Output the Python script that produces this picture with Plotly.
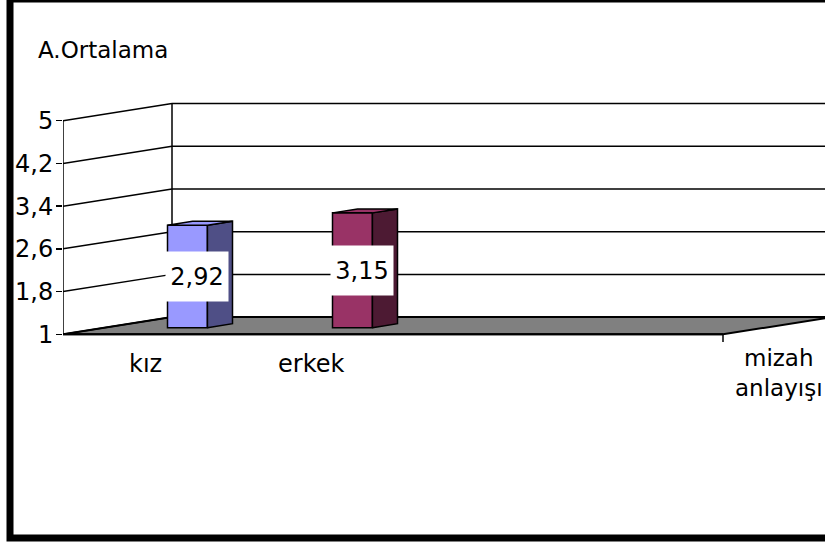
import plotly.graph_objects as go

# ---- data ----
categories = ["kız", "erkek"]
values = [2.92, 3.15]
value_labels = ["2,92", "3,15"]
tick_vals = [1, 1.8, 2.6, 3.4, 4.2, 5]
tick_text = ["1", "1,8", "2,6", "3,4", "4,2", "5"]
series_name = "mizah<br>anlayışı"
title_text = "A.Ortalama"
n_slots = 4  # category slots on the floor

# ---- styles / geometry ----
FONT = "DejaVu Sans"
front_colors = ["#9999FF", "#993366"]
side_colors = ["#4F4F86", "#4D1A33"]
W, H = 825, 542
ML = 63            # left margin = front axis position
PXX = 165.0        # px per category
PXY = 53.4         # px per value unit
Y1_PIX = 334.3     # pixel row of value 1 on the front plane
ymax = 1 + Y1_PIX / PXY
ymin = 1 - (H - Y1_PIX) / PXY
xmin = -0.5
xmax = (W - ML) / PXX - 0.5
DX = 109 / PXX     # depth offset (x units)
DY = 17.2 / PXY    # depth offset (y units)
F = 0.385          # depth fraction of bar front face
D = 0.23           # bar depth fraction
BW = 0.242         # bar width


def px_x(p):
    return (p - ML) / PXX - 0.5


def px_y(p):
    return 1 - (p - Y1_PIX) / PXY


fig = go.Figure()
shapes = []

# floor
fx = [-0.5, n_slots - 0.5, n_slots - 0.5 + DX, -0.5 + DX]
fy = [1, 1, 1 + DY, 1 + DY]
path = "M " + " L ".join(f"{a},{b}" for a, b in zip(fx, fy)) + " Z"
shapes.append(dict(type="path", path=path, xref="x", yref="y", layer="below",
                   fillcolor="#808080", line=dict(color="black", width=2)))

# gridlines (side wall obliques + back wall horizontals)
for v in tick_vals:
    shapes.append(dict(type="line", xref="x", yref="y", layer="below",
                       x0=-0.5, y0=v, x1=-0.5 + DX, y1=v + DY,
                       line=dict(color="black", width=1.5)))
    shapes.append(dict(type="line", xref="x", yref="y", layer="below",
                       x0=-0.5 + DX, y0=v + DY, x1=xmax + 0.5, y1=v + DY,
                       line=dict(color="black", width=1.5)))
# back wall left edge and front axis line
shapes.append(dict(type="line", xref="x", yref="y", layer="below",
                   x0=-0.5 + DX, y0=tick_vals[0] + DY, x1=-0.5 + DX, y1=tick_vals[-1] + DY,
                   line=dict(color="black", width=1.5)))
shapes.append(dict(type="line", xref="x", yref="y", layer="below",
                   x0=-0.5, y0=tick_vals[0], x1=-0.5, y1=tick_vals[-1],
                   line=dict(color="black", width=1.5)))
# front floor edge thicker
shapes.append(dict(type="line", xref="x", yref="y", layer="below",
                   x0=-0.5, y0=1, x1=n_slots - 0.5, y1=1,
                   line=dict(color="black", width=2)))
# category tick at the right front corner
shapes.append(dict(type="line", xref="x", yref="y", layer="below",
                   x0=n_slots - 0.5, y0=1, x1=n_slots - 0.5, y1=px_y(342),
                   line=dict(color="black", width=1.5)))

# outer border
shapes.append(dict(type="rect", xref="paper", yref="paper",
                   x0=(10 - ML) / (W - ML), x1=(832 - ML) / (W - ML),
                   y0=(H - 538) / H, y1=1 + 1 / H,
                   line=dict(color="black", width=7), fillcolor="rgba(0,0,0,0)"))

# bars (front faces)
xs = [i + DX * F for i in range(len(values))]
base = 1 + DY * F
fig.add_trace(go.Bar(
    x=xs, y=[v - 1 for v in values], base=base, width=BW,
    marker=dict(color=front_colors, line=dict(color="black", width=1.5)),
    hoverinfo="skip", showlegend=False))

# side and top faces
for i, v in enumerate(values):
    xl = xs[i] - BW / 2
    xr = xs[i] + BW / 2
    top = base + (v - 1)
    ddx, ddy = DX * D, DY * D
    fig.add_trace(go.Scatter(
        x=[xr, xr + ddx, xr + ddx, xr, xr],
        y=[base, base + ddy, top + ddy, top, base],
        mode="lines", fill="toself", fillcolor=side_colors[i],
        line=dict(color="black", width=1.5), hoverinfo="skip", showlegend=False))
    fig.add_trace(go.Scatter(
        x=[xl, xr, xr + ddx, xl + ddx, xl],
        y=[top, top, top + ddy, top + ddy, top],
        mode="lines", fill="toself", fillcolor=front_colors[i],
        line=dict(color="black", width=1.5), hoverinfo="skip", showlegend=False))

annotations = []
# value labels
for i, v in enumerate(values):
    annotations.append(dict(
        x=xs[i] + 0.06, y=base + (v - 1) / 2, xref="x", yref="y",
        text=value_labels[i], showarrow=False, bgcolor="white",
        width=60, height=47, font=dict(family=FONT, size=24, color="black")))
# category labels
for i, c in enumerate(categories):
    annotations.append(dict(
        x=i, y=px_y(364), xref="x", yref="y", text=c, showarrow=False,
        xanchor="center", yanchor="middle",
        font=dict(family=FONT, size=24, color="black")))
# series (depth axis) label
annotations.append(dict(
    x=px_x(779), y=px_y(373), xref="x", yref="y", text=series_name,
    showarrow=False, align="center", xanchor="center", yanchor="middle",
    font=dict(family=FONT, size=23, color="black")))
# title (paper coords, left of the plot area)
annotations.append(dict(
    x=(36 - ML) / (W - ML), y=1 - 50 / H, xref="paper", yref="paper",
    text=title_text, showarrow=False, xanchor="left", yanchor="middle",
    font=dict(family=FONT, size=23, color="black")))

fig.update_layout(
    width=W, height=H, autosize=False,
    margin=dict(l=ML, r=0, t=0, b=0),
    paper_bgcolor="white", plot_bgcolor="white",
    shapes=shapes, annotations=annotations, bargap=0,
    xaxis=dict(range=[xmin, xmax], visible=False, fixedrange=True),
    yaxis=dict(range=[ymin, ymax], tickvals=tick_vals, ticktext=tick_text,
               ticks="outside", ticklen=6, tickwidth=1.5, tickcolor="black",
               showgrid=False, zeroline=False, showline=False,
               ticklabelstandoff=-2, automargin=False, fixedrange=True,
               tickfont=dict(family=FONT, size=24, color="black")),
    showlegend=False,
)

fig.write_html("out.html", config={"staticPlot": True},
               post_script="document.body.style.margin='0';document.body.style.overflow='hidden';")
